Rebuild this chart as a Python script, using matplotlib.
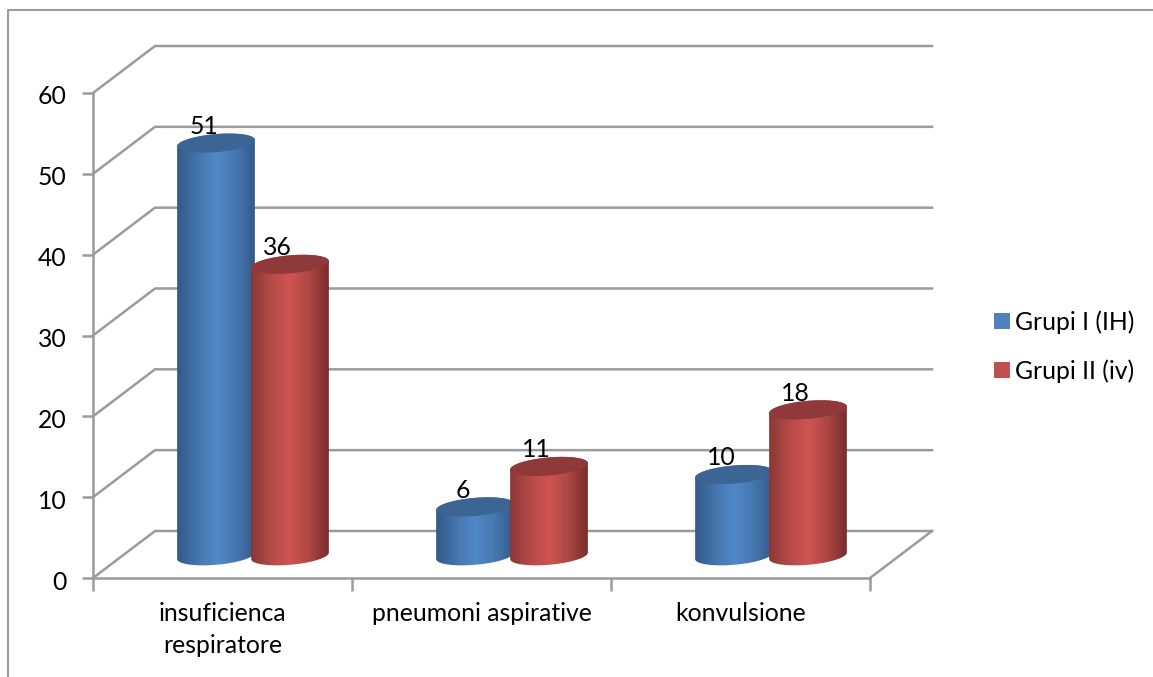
"""
Grouped 3D-style cylinder chart: complications per patient group
"""

import numpy as np
import matplotlib
matplotlib.use('Agg')
import matplotlib.pyplot as plt
from matplotlib.colors import LinearSegmentedColormap
from matplotlib.lines import Line2D
from matplotlib.patches import Patch, PathPatch
from matplotlib.path import Path
from matplotlib.transforms import ScaledTranslation

categories = ['insuficienca\nrespiratore', 'pneumoni aspirative', 'konvulsione']
grupi_1 = [51, 6, 10]
grupi_2 = [36, 11, 18]
series_names = ['Grupi I (IH)', 'Grupi II (iv)']
y_ticks = [0, 10, 20, 30, 40, 50, 60]

W, H = 1153, 677
LEFT, RIGHT, BOTTOM, TOP = 93, 870, 578, 93
PX_X = 3 / (RIGHT - LEFT)      # data units per pixel
PX_Y = 60 / (BOTTOM - TOP)
DEPTH_X, DEPTH_Y = 62 * PX_X, 47 * PX_Y
GRID = '#9b9b9b'
FONT = 'Lato'
FS = 17.8

blue_ramp = LinearSegmentedColormap.from_list('b', ['#315a8a', '#4474ab', '#5288c9', '#4678b0', '#33598a'])
red_ramp = LinearSegmentedColormap.from_list('r', ['#8a3735', '#b44a48', '#cf5452', '#ad4745', '#772d2c'])
BLUE_TOP, RED_TOP = '#3c6594', '#90393a'
BLUE_KEY, RED_KEY = '#4f81bd', '#c0504d'


def ellipse_points(cx, cy, start, stop):
    """Points of a slightly tilted ellipse, in data units"""
    t = np.radians(np.linspace(start, stop, 60))
    a, b, tilt = 39, 9, np.radians(5)
    px = a * np.cos(t) * np.cos(tilt) + b * np.sin(t) * np.sin(tilt)
    py = a * np.cos(t) * np.sin(tilt) - b * np.sin(t) * np.cos(tilt)
    return cx + px * PX_X, cy + py * PX_Y


def draw_cylinder(ax, cx, value, ramp, top_color, z):
    base = 2.75
    top = value + 2.8
    # body: lower half of the base ellipse joined to the upper half of the lid
    bx, by = ellipse_points(cx, base, 0, 180)
    tx, ty = ellipse_points(cx, top, 180, 360)
    verts = np.column_stack([np.r_[bx, tx], np.r_[by, ty]])
    verts = np.vstack([verts, verts[0]])
    codes = [Path.MOVETO] + [Path.LINETO] * (len(verts) - 2) + [Path.CLOSEPOLY]
    body = PathPatch(Path(verts, codes), facecolor='none', edgecolor='none', zorder=z)
    ax.add_patch(body)
    half = 39 * PX_X
    im = ax.imshow(np.linspace(0, 1, 256).reshape(1, -1), cmap=ramp, aspect='auto',
                   extent=[cx - half, cx + half, by.min() - 1, ty.max() + 1], zorder=z)
    im.set_clip_path(body)
    # lid
    lx, ly = ellipse_points(cx, top, 0, 360)
    ax.fill(lx, ly, color=top_color, lw=0, zorder=z + 0.1)


fig = plt.figure(figsize=(W / 100, H / 100), dpi=100)
ax = fig.add_axes([LEFT / W, 1 - BOTTOM / H, (RIGHT - LEFT) / W, (BOTTOM - TOP) / H])
ax.patch.set_visible(False)

# back wall gridlines and side wall diagonals
for v in y_ticks:
    ax.plot([0, DEPTH_X, 3 + DEPTH_X], [v, v + DEPTH_Y, v + DEPTH_Y],
            color=GRID, lw=1.8, clip_on=False, zorder=1, solid_joinstyle='miter')
# floor edge on the right
ax.plot([3, 3 + DEPTH_X], [0, DEPTH_Y], color=GRID, lw=1.8, clip_on=False, zorder=1)

# two cylinders per category, red in front of blue
for i in range(len(categories)):
    cx1 = i + (216 - LEFT) * PX_X
    cx2 = i + (290 - LEFT) * PX_X
    draw_cylinder(ax, cx1, grupi_1[i], blue_ramp, BLUE_TOP, 3)
    draw_cylinder(ax, cx2, grupi_2[i], red_ramp, RED_TOP, 4)
    ax.text(cx1 - 12.5 * PX_X, grupi_1[i] + 4.85, str(grupi_1[i]), ha='center', va='center',
            fontsize=FS, family=FONT, color='black', zorder=6)
    ax.text(cx2 - 12.5 * PX_X, grupi_2[i] + 4.85, str(grupi_2[i]), ha='center', va='center',
            fontsize=FS, family=FONT, color='black', zorder=6)

ax.set_xlim(0, 3)
ax.set_ylim(0, 60)
for side in ['top', 'right']:
    ax.spines[side].set_visible(False)
for side in ['left', 'bottom']:
    ax.spines[side].set_color(GRID)
    ax.spines[side].set_linewidth(1.8)

ax.set_yticks(y_ticks)
ax.set_yticklabels([str(v) for v in y_ticks], fontsize=FS, family=FONT)
ax.set_xticks([0, 1, 2, 3])
ax.set_xticklabels([])
ax.set_xticks([0.5 + j for j in range(3)], minor=True)
ax.set_xticklabels(categories, minor=True, fontsize=FS, family=FONT, linespacing=1.45)
ax.tick_params(axis='y', length=8, width=1.8, color=GRID, pad=11)
ax.tick_params(axis='x', which='major', length=9, width=1.8, color=GRID)
ax.tick_params(axis='x', which='minor', length=0, pad=17.5)

# nudge the value axis numbers down onto their ticks
nudge = ScaledTranslation(0, -2 / 100, fig.dpi_scale_trans)
for label in ax.get_yticklabels():
    label.set_transform(label.get_transform() + nudge)

handles = [Patch(facecolor=BLUE_KEY, label=series_names[0]),
           Patch(facecolor=RED_KEY, label=series_names[1])]
fig.legend(handles=handles, loc='center left', bbox_to_anchor=(987 / W, 1 - 346.5 / H),
           frameon=False, prop={'family': FONT, 'size': FS}, handlelength=0.62,
           handleheight=0.62, handletextpad=0.2, labelspacing=1.03, borderaxespad=0, borderpad=0.3)

# chart frame
fig.add_artist(Line2D([8 / W, 8 / W, 1], [0, 1 - 10 / H, 1 - 10 / H], color=GRID, lw=1.5))

fig.savefig('out.png', dpi=100)
